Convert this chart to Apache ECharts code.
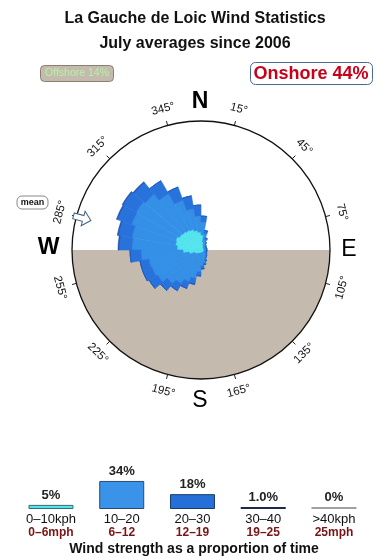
<!DOCTYPE html>
<html><head><meta charset="utf-8">
<script src="https://cdn.jsdelivr.net/npm/echarts@6/dist/echarts.min.js"></script>
<style>html,body{margin:0;padding:0;background:#fff}#c{width:390px;height:560px}</style>
</head><body><div id="c"></div>
<script>
// Wind direction sectors (bearing where each 10° sector starts)
const directions = ['0','10','20','30','40','50','60','70','80','90','100','110','120','130','140','150','160','170',
  '180','190','200','210','220','230','240','250','260','270','280','290','300','310','320','330','340','350'];
// Outer edge of each wind-strength band per sector (cumulative)
const edge0to10  = [15,8,5,4,3,3,3,3,3,3,3,3,3,3,3,3,3,3,3,3,4,4,5,6,7,12,18,24,26,27,25,24,23,22,20,18];
const edge10to20 = [28,17,11,8,6,5,5,5,5,5,5,5,6,7,8,10,13,16,22,29,34,39,44,50,52,53,60,69,70,74,75,73,65,53,42,34];
const edge20to30 = [34,20,13,9,7,6,6,6,6,6,6,6,7,8,9,12,15,19,26,35,41,47,53,60,62,62,71,82,84,89,90,88,80,67,55,45];
const edge30to40 = [34,20,13,9,7,6,6,6,6,6,6,6,7,8,9,12,15,19,26,35,41,47,53,60,62,62,71,83,85,90,91,89,80,67,55,45];
const roseMax = 129;

// Strength legend
const legendKph = ['0–10kph','10–20','20–30','30–40','>40kph'];
const legendMph = ['0–6mph','6–12','12–19','19–25','25mph'];
const legendPct = [5, 34, 18, 1.0, 0];
const legendPctText = ['5%','34%','18%','1.0%','0%'];

// Compass tick labels
const tickBearings = [15,45,75,105,135,165,195,225,255,285,315,345];
const meanBearing = 285;
const offshoreText = 'Offshore 14%';
const onshoreText = 'Onshore 44%';

const CX = 201, CY = 250, R = 129;
const FONT = '"Liberation Sans", Arial, Helvetica, sans-serif';
const bandColors = ['#52e4ec', '#3390e6', '#2872dc', '#1e52b0'];
const legendColors = ['#55e3ea', '#3a93e8', '#2570d8', '#1b2a4a', '#a0a0a0'];
const legendBorders = ['#2f6f78', '#2a4a70', '#1a3a6a', '#1b2a4a', '#a0a0a0'];

const edges = [edge0to10, edge10to20, edge20to30, edge30to40];
const roseSeries = edges.map((e, k) => ({
  type: 'bar', coordinateSystem: 'polar', stack: 'rose', silent: true,
  barCategoryGap: '0%', z: 2,
  data: e.map((v, i) => k === 0 ? v : v - edges[k - 1][i]),
  itemStyle: { color: bandColors[k], borderColor: bandColors[k], borderWidth: 0.6 }
}));

function pt(b, r) {
  const a = b * Math.PI / 180;
  return [CX + r * Math.sin(a), CY - r * Math.cos(a)];
}

const graphics = [];
graphics.push({ type: 'sector', z: 0, silent: true,
  shape: { cx: CX, cy: CY, r: R, r0: 0, startAngle: 0, endAngle: Math.PI, clockwise: true },
  style: { fill: '#c5baae' } });
graphics.push({ type: 'circle', z: 10, silent: true,
  shape: { cx: CX, cy: CY, r: R }, style: { fill: 'none', stroke: '#111', lineWidth: 1.3 } });
tickBearings.forEach(b => {
  const p1 = pt(b, R), p2 = pt(b, R + 4.5), pl = pt(b, 146);
  graphics.push({ type: 'line', z: 10, silent: true,
    shape: { x1: p1[0], y1: p1[1], x2: p2[0], y2: p2[1] }, style: { stroke: '#222', lineWidth: 1 } });
  const lower = b > 90 && b < 270;
  const deg = lower ? -(b - 180) : -(b > 180 ? b - 360 : b);
  graphics.push({ type: 'text', z: 10, silent: true, x: pl[0], y: pl[1], rotation: deg * Math.PI / 180,
    style: { text: b + '°', font: '11.5px ' + FONT, fill: '#111',
      align: 'center', verticalAlign: 'middle', textAlign: 'center', textVerticalAlign: 'middle' } });
});
[['N', 200, 101.5, 'bold'], ['S', 200, 401, 'normal'], ['W', 48.5, 248, 'bold'], ['E', 349, 250, 'normal']].forEach(c => {
  graphics.push({ type: 'text', z: 10, silent: true, x: c[1], y: c[2],
    style: { text: c[0], font: c[3] + ' 23px ' + FONT, fill: '#000',
      align: 'center', verticalAlign: 'middle', textAlign: 'center', textVerticalAlign: 'middle' } });
});
// mean arrow
const ap = pt(meanBearing, 123);
graphics.push({ type: 'polygon', z: 11, silent: true, x: ap[0], y: ap[1],
  rotation: -((meanBearing + 180 - 90) % 360) * Math.PI / 180,
  shape: { points: [[-9,-3],[1,-3],[1,-7.5],[9,0],[1,7.5],[1,3],[-9,3]] },
  style: { fill: '#fff', stroke: '#3a5f80', lineWidth: 1 } });
graphics.push({ type: 'rect', z: 10, silent: true, shape: { x: 17, y: 196, width: 31, height: 13, r: 5 },
  style: { fill: '#fff', stroke: '#888', lineWidth: 1 } });
graphics.push({ type: 'text', z: 11, silent: true, x: 32.5, y: 202.5,
  style: { text: 'mean', font: 'bold 9px ' + FONT, fill: '#111',
    align: 'center', verticalAlign: 'middle', textAlign: 'center', textVerticalAlign: 'middle' } });
// offshore / onshore boxes
graphics.push({ type: 'rect', z: 10, silent: true, shape: { x: 40.5, y: 65.5, width: 73, height: 16, r: 4 },
  style: { fill: '#c5baae', stroke: '#8a8072', lineWidth: 1 } });
graphics.push({ type: 'text', z: 11, silent: true, x: 77, y: 73.5,
  style: { text: offshoreText, font: '10.5px ' + FONT, fill: '#b6f2a6',
    align: 'center', verticalAlign: 'middle', textAlign: 'center', textVerticalAlign: 'middle' } });
graphics.push({ type: 'rect', z: 10, silent: true, shape: { x: 250.5, y: 62.5, width: 122, height: 22, r: 5 },
  style: { fill: '#fff', stroke: '#4a6890', lineWidth: 1 } });
graphics.push({ type: 'text', z: 11, silent: true, x: 311, y: 74,
  style: { text: onshoreText, font: 'bold 18px ' + FONT, fill: '#c8001a',
    align: 'center', verticalAlign: 'middle', textAlign: 'center', textVerticalAlign: 'middle' } });
graphics.push({ type: 'text', z: 11, silent: true, x: 194, y: 549,
  style: { text: 'Wind strength as a proportion of time', font: 'bold 14px ' + FONT, fill: '#111',
    align: 'center', verticalAlign: 'middle', textAlign: 'center', textVerticalAlign: 'middle' } });

const chart = echarts.init(document.getElementById('c'), null, { renderer: 'canvas' });
chart.setOption({
  animation: false,
  backgroundColor: '#fff',
  title: {
    text: 'La Gauche de Loic Wind Statistics\nJuly averages since 2006',
    left: 'center', top: 1.5,
    textStyle: { fontFamily: FONT, fontSize: 16, fontWeight: 'bold', color: '#111', lineHeight: 24.5 }
  },
  polar: { center: [CX, CY], radius: R },
  angleAxis: {
    type: 'category', data: directions, startAngle: 90, clockwise: true, boundaryGap: true,
    axisLine: { show: false }, axisTick: { show: false }, axisLabel: { show: false }, splitLine: { show: false }
  },
  radiusAxis: { type: 'value', min: 0, max: roseMax, show: false,
    axisLine: { show: false }, splitLine: { show: false }, axisLabel: { show: false }, axisTick: { show: false } },
  grid: { left: 15.6, width: 353.75, top: 476, height: 33 },
  xAxis: {
    type: 'category', data: legendKph,
    axisLine: { show: false }, axisTick: { show: false },
    axisLabel: {
      interval: 0, margin: 3,
      formatter: (v, i) => '{a|' + v + '}\n{b|' + legendMph[i] + '}',
      rich: {
        a: { fontFamily: FONT, fontSize: 13, color: '#111', lineHeight: 14 },
        b: { fontFamily: FONT, fontSize: 12, fontWeight: 'bold', color: '#7a1414', lineHeight: 14 }
      }
    }
  },
  yAxis: { type: 'value', min: 0, max: 40, show: false, splitLine: { show: false } },
  series: roseSeries.concat([{
    type: 'bar', xAxisIndex: 0, yAxisIndex: 0, barWidth: 45, barMinHeight: 2, silent: true,
    data: legendPct.map((v, i) => ({ value: v,
      itemStyle: { color: legendColors[i], borderColor: legendBorders[i], borderWidth: i < 3 ? 1 : 0 } })),
    label: { show: true, position: 'top', distance: 3,
      formatter: p => legendPctText[p.dataIndex],
      fontFamily: FONT, fontSize: 13, fontWeight: 'bold', color: '#222' }
  }]),
  graphic: graphics
});
</script></body></html>
